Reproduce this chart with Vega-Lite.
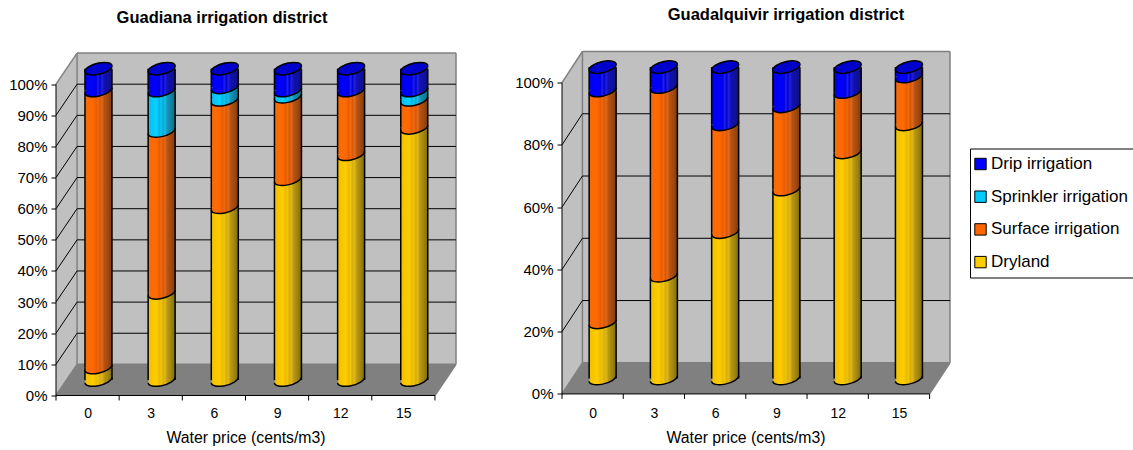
{"$schema":"https://vega.github.io/schema/vega-lite/v6.json","background":"white","padding":{"left":8,"top":6.5,"right":0,"bottom":0},"autosize":{"type":"pad"},"bounds":"flush","spacing":106,"config":{"view":{"stroke":null},"font":"Liberation Sans"},
"datasets":{
"guadiana":[
{"price":0,"series":"Dryland","start":0,"end":4},{"price":3,"series":"Dryland","start":0,"end":28},{"price":6,"series":"Dryland","start":0,"end":55.5},{"price":9,"series":"Dryland","start":0,"end":64.5},{"price":12,"series":"Dryland","start":0,"end":72.5},{"price":15,"series":"Dryland","start":0,"end":81},
{"price":0,"series":"Surface irrigation","start":4,"end":93},{"price":3,"series":"Surface irrigation","start":28,"end":80},{"price":6,"series":"Surface irrigation","start":55.5,"end":90},{"price":9,"series":"Surface irrigation","start":64.5,"end":91},{"price":12,"series":"Surface irrigation","start":72.5,"end":93},{"price":15,"series":"Surface irrigation","start":81,"end":90},
{"price":3,"series":"Sprinkler irrigation","start":80,"end":93},{"price":6,"series":"Sprinkler irrigation","start":90,"end":94},{"price":9,"series":"Sprinkler irrigation","start":91,"end":93},{"price":15,"series":"Sprinkler irrigation","start":90,"end":93},
{"price":0,"series":"Drip irrigation","start":93,"end":100},{"price":3,"series":"Drip irrigation","start":93,"end":100},{"price":6,"series":"Drip irrigation","start":94,"end":100},{"price":9,"series":"Drip irrigation","start":93,"end":100},{"price":12,"series":"Drip irrigation","start":93,"end":100},{"price":15,"series":"Drip irrigation","start":93,"end":100}],
"guadalquivir":[
{"price":0,"series":"Dryland","start":0,"end":18},{"price":3,"series":"Dryland","start":0,"end":33},{"price":6,"series":"Dryland","start":0,"end":47},{"price":9,"series":"Dryland","start":0,"end":60.7},{"price":12,"series":"Dryland","start":0,"end":72.6},{"price":15,"series":"Dryland","start":0,"end":81.6},
{"price":0,"series":"Surface irrigation","start":18,"end":92.5},{"price":3,"series":"Surface irrigation","start":33,"end":93.6},{"price":6,"series":"Surface irrigation","start":47,"end":81.6},{"price":9,"series":"Surface irrigation","start":60.7,"end":87.4},{"price":12,"series":"Surface irrigation","start":72.6,"end":92},{"price":15,"series":"Surface irrigation","start":81.6,"end":97},
{"price":0,"series":"Drip irrigation","start":92.5,"end":100},{"price":3,"series":"Drip irrigation","start":93.6,"end":100},{"price":6,"series":"Drip irrigation","start":81.6,"end":100},{"price":9,"series":"Drip irrigation","start":87.4,"end":100},{"price":12,"series":"Drip irrigation","start":92,"end":100},{"price":15,"series":"Drip irrigation","start":97,"end":100}],
"sideWall":[{"px":-1.5,"low":0,"high":100},{"px":-0.5,"low":10,"high":110}],
"backWall":[{"px":-0.5,"px2":17.5,"low":10,"high":110}],
"floor":[{"px":-1.5,"low":0,"high":0},{"px":-0.5,"low":0,"high":10},{"px":16.5,"low":0,"high":10},{"px":17.5,"low":10,"high":10}],
"frame":[{"px":-1.5,"px2":-0.5,"low":100,"high":110},{"px":-0.5,"px2":17.5,"low":110,"high":110},{"px":17.5,"px2":17.5,"low":10,"high":110},{"px":-0.5,"px2":-0.5,"low":10,"high":110},{"px":-0.5,"px2":17.5,"low":10,"high":10},{"px":-1.5,"px2":-0.5,"low":0,"high":10},{"px":16.5,"px2":17.5,"low":0,"high":10}],
"gridTen":[{"px":-1.5,"px2":-0.5,"low":10,"high":20},{"px":-1.5,"px2":-0.5,"low":20,"high":30},{"px":-1.5,"px2":-0.5,"low":30,"high":40},{"px":-1.5,"px2":-0.5,"low":40,"high":50},{"px":-1.5,"px2":-0.5,"low":50,"high":60},{"px":-1.5,"px2":-0.5,"low":60,"high":70},{"px":-1.5,"px2":-0.5,"low":70,"high":80},{"px":-1.5,"px2":-0.5,"low":80,"high":90},{"px":-1.5,"px2":-0.5,"low":90,"high":100},
{"px":-0.5,"px2":17.5,"low":20,"high":20},{"px":-0.5,"px2":17.5,"low":30,"high":30},{"px":-0.5,"px2":17.5,"low":40,"high":40},{"px":-0.5,"px2":17.5,"low":50,"high":50},{"px":-0.5,"px2":17.5,"low":60,"high":60},{"px":-0.5,"px2":17.5,"low":70,"high":70},{"px":-0.5,"px2":17.5,"low":80,"high":80},{"px":-0.5,"px2":17.5,"low":90,"high":90},{"px":-0.5,"px2":17.5,"low":100,"high":100}],
"gridTwenty":[{"px":-1.5,"px2":-0.5,"low":20,"high":30},{"px":-1.5,"px2":-0.5,"low":40,"high":50},{"px":-1.5,"px2":-0.5,"low":60,"high":70},{"px":-1.5,"px2":-0.5,"low":80,"high":90},
{"px":-0.5,"px2":17.5,"low":30,"high":30},{"px":-0.5,"px2":17.5,"low":50,"high":50},{"px":-0.5,"px2":17.5,"low":70,"high":70},{"px":-0.5,"px2":17.5,"low":90,"high":90}],
"axisLines":[{"px":-1.5,"px2":-1.5,"low":0,"high":100},{"px":-1.5,"px2":16.5,"low":0,"high":0},{"px":-1.5,"px2":-1.5,"low":-1.6,"high":0},{"px":1.5,"px2":1.5,"low":-1.6,"high":0},{"px":4.5,"px2":4.5,"low":-1.6,"high":0},{"px":7.5,"px2":7.5,"low":-1.6,"high":0},{"px":10.5,"px2":10.5,"low":-1.6,"high":0},{"px":13.5,"px2":13.5,"low":-1.6,"high":0},{"px":16.5,"px2":16.5,"low":-1.6,"high":0}]
},
"hconcat":[
{"width":400,"height":344,"title":{"text":"Guadiana irrigation district","font":"Liberation Sans","fontSize":16.5,"fontWeight":"bold","anchor":"middle","dx":-34,"offset":25,"color":"black"},
"layer":[
{"data":{"name":"backWall"},"mark":{"type":"rect","fill":"#C0C0C0"},"encoding":{"x":{"field":"px","type":"quantitative","scale":{"domain":[-1.5,17.5],"nice":false,"zero":false,"padding":0},"axis":{"title":"Water price (cents/m3)","titleFont":"Liberation Sans","titleFontSize":15.8,"titleFontWeight":"normal","titleColor":"black","titleX":189.5,"titlePadding":10.5,"values":[0,3,6,9,12,15],"ticks":false,"domain":false,"grid":false,"labelFontSize":14,"labelColor":"black","labelPadding":10.5,"labelAngle":0,"format":"d"}},"x2":{"field":"px2"},"y":{"field":"low","type":"quantitative","scale":{"domain":[0,110.5],"nice":false,"zero":false},"axis":{"title":null,"values":[0,10,20,30,40,50,60,70,80,90,100],"tickCount":11,"tickOpacity":{"condition":{"test":"datum.value>100","value":0},"value":1},"labelOverlap":false,"labelExpr":"datum.value>100?'':datum.value+'%'","domain":false,"grid":false,"tickSize":5,"tickColor":"black","labelFontSize":15,"labelColor":"black","labelPadding":4}},"y2":{"field":"high"}}},
{"data":{"name":"sideWall"},"mark":{"type":"area","fill":"#C0C0C0","orient":"vertical"},"encoding":{"x":{"field":"px","type":"quantitative"},"y":{"field":"low","type":"quantitative"},"y2":{"field":"high"}}},
{"data":{"name":"floor"},"mark":{"type":"area","fill":"#808080","orient":"vertical"},"encoding":{"x":{"field":"px","type":"quantitative"},"y":{"field":"low","type":"quantitative"},"y2":{"field":"high"}}},
{"data":{"name":"frame"},"mark":{"type":"rule","stroke":"#808080","strokeWidth":1.5},"encoding":{"x":{"field":"px","type":"quantitative"},"x2":{"field":"px2"},"y":{"field":"low","type":"quantitative"},"y2":{"field":"high"}}},
{"data":{"name":"gridTen"},"mark":{"type":"rule","stroke":"black","strokeWidth":1},"encoding":{"x":{"field":"px","type":"quantitative"},"x2":{"field":"px2"},"y":{"field":"low","type":"quantitative"},"y2":{"field":"high"}}},
{"data":{"name":"axisLines"},"mark":{"type":"rule","stroke":"black","strokeWidth":1},"encoding":{"x":{"field":"px","type":"quantitative"},"x2":{"field":"px2"},"y":{"field":"low","type":"quantitative"},"y2":{"field":"high"}}},

{"data":{"name":"guadiana"},"transform":[{"filter":"datum.series==='Dryland'"}],"mark":{"type":"bar","orient":"vertical","size":27,"xOffset":10.9,"yOffset":-15.5,"y2Offset":-15.5,"fill":{"gradient":"linear","x1":0,"y1":0,"x2":1,"y2":0,"stops":[{"offset":0,"color":"#EFC000"},{"offset":0.3,"color":"#FFCC00"},{"offset":0.42,"color":"#E8BC00"},{"offset":0.48,"color":"#F0C410"},{"offset":0.56,"color":"#D8AE00"},{"offset":0.62,"color":"#E0B820"},{"offset":0.72,"color":"#B89610"},{"offset":0.85,"color":"#A08610"},{"offset":1,"color":"#7A6A10"}]}},"encoding":{"x":{"field":"price","type":"quantitative"},"y":{"field":"start","type":"quantitative"},"y2":{"field":"end"}}},
{"data":{"name":"guadiana"},"transform":[{"filter":"datum.series==='Dryland'"}],"mark":{"type":"point","filled":true,"size":729,"strokeWidth":0,"opacity":1,"xOffset":10.9,"yOffset":-15.5,"shape":"M-1,0.2 C-1,0.432 -0.552,0.53 0,0.42 C0.552,0.31 1,0.032 1,-0.2 C1,-0.432 0.552,-0.53 0,-0.42 C-0.552,-0.31 -1,-0.032 -1,0.2 Z","fill":{"gradient":"linear","x1":0,"y1":0,"x2":1,"y2":0,"stops":[{"offset":0,"color":"#EFC000"},{"offset":0.3,"color":"#FFCC00"},{"offset":0.42,"color":"#E8BC00"},{"offset":0.48,"color":"#F0C410"},{"offset":0.56,"color":"#D8AE00"},{"offset":0.62,"color":"#E0B820"},{"offset":0.72,"color":"#B89610"},{"offset":0.85,"color":"#A08610"},{"offset":1,"color":"#7A6A10"}]}},"encoding":{"x":{"field":"price","type":"quantitative"},"y":{"field":"start","type":"quantitative"}}},
{"data":{"name":"guadiana"},"transform":[{"filter":"datum.series==='Dryland'"}],"mark":{"type":"point","filled":false,"size":729,"stroke":"black","strokeWidth":1.5,"opacity":1,"xOffset":10.9,"yOffset":-15.5,"shape":"M-1,0.2 C-1,0.432 -0.552,0.53 0,0.42 C0.552,0.31 1,0.032 1,-0.2"},"encoding":{"x":{"field":"price","type":"quantitative"},"y":{"field":"start","type":"quantitative"}}},

{"data":{"name":"guadiana"},"transform":[{"filter":"datum.series==='Surface irrigation'"}],"mark":{"type":"bar","orient":"vertical","size":27,"xOffset":10.9,"yOffset":-15.5,"y2Offset":-15.5,"fill":{"gradient":"linear","x1":0,"y1":0,"x2":1,"y2":0,"stops":[{"offset":0,"color":"#F56A0A"},{"offset":0.3,"color":"#FF6A00"},{"offset":0.42,"color":"#E85C00"},{"offset":0.48,"color":"#F06A10"},{"offset":0.56,"color":"#D85800"},{"offset":0.62,"color":"#E06A20"},{"offset":0.72,"color":"#B85010"},{"offset":0.85,"color":"#A04A10"},{"offset":1,"color":"#7A3A10"}]}},"encoding":{"x":{"field":"price","type":"quantitative"},"y":{"field":"start","type":"quantitative"},"y2":{"field":"end"}}},
{"data":{"name":"guadiana"},"transform":[{"filter":"datum.series==='Surface irrigation'"}],"mark":{"type":"point","filled":true,"size":729,"strokeWidth":0,"opacity":1,"xOffset":10.9,"yOffset":-15.5,"shape":"M-1,0.2 C-1,0.432 -0.552,0.53 0,0.42 C0.552,0.31 1,0.032 1,-0.2 C1,-0.432 0.552,-0.53 0,-0.42 C-0.552,-0.31 -1,-0.032 -1,0.2 Z","fill":{"gradient":"linear","x1":0,"y1":0,"x2":1,"y2":0,"stops":[{"offset":0,"color":"#F56A0A"},{"offset":0.3,"color":"#FF6A00"},{"offset":0.42,"color":"#E85C00"},{"offset":0.48,"color":"#F06A10"},{"offset":0.56,"color":"#D85800"},{"offset":0.62,"color":"#E06A20"},{"offset":0.72,"color":"#B85010"},{"offset":0.85,"color":"#A04A10"},{"offset":1,"color":"#7A3A10"}]}},"encoding":{"x":{"field":"price","type":"quantitative"},"y":{"field":"start","type":"quantitative"}}},
{"data":{"name":"guadiana"},"transform":[{"filter":"datum.series==='Surface irrigation'"}],"mark":{"type":"point","filled":false,"size":729,"stroke":"black","strokeWidth":1.5,"opacity":1,"xOffset":10.9,"yOffset":-15.5,"shape":"M-1,0.2 C-1,0.432 -0.552,0.53 0,0.42 C0.552,0.31 1,0.032 1,-0.2"},"encoding":{"x":{"field":"price","type":"quantitative"},"y":{"field":"start","type":"quantitative"}}},

{"data":{"name":"guadiana"},"transform":[{"filter":"datum.series==='Sprinkler irrigation'"}],"mark":{"type":"bar","orient":"vertical","size":27,"xOffset":10.9,"yOffset":-15.5,"y2Offset":-15.5,"fill":{"gradient":"linear","x1":0,"y1":0,"x2":1,"y2":0,"stops":[{"offset":0,"color":"#00BDEE"},{"offset":0.3,"color":"#10D0FF"},{"offset":0.42,"color":"#00B8E4"},{"offset":0.48,"color":"#10C4F0"},{"offset":0.56,"color":"#00ACD8"},{"offset":0.62,"color":"#20B8E0"},{"offset":0.72,"color":"#1094B8"},{"offset":0.85,"color":"#1084A0"},{"offset":1,"color":"#106A7A"}]}},"encoding":{"x":{"field":"price","type":"quantitative"},"y":{"field":"start","type":"quantitative"},"y2":{"field":"end"}}},
{"data":{"name":"guadiana"},"transform":[{"filter":"datum.series==='Sprinkler irrigation'"}],"mark":{"type":"point","filled":true,"size":729,"strokeWidth":0,"opacity":1,"xOffset":10.9,"yOffset":-15.5,"shape":"M-1,0.2 C-1,0.432 -0.552,0.53 0,0.42 C0.552,0.31 1,0.032 1,-0.2 C1,-0.432 0.552,-0.53 0,-0.42 C-0.552,-0.31 -1,-0.032 -1,0.2 Z","fill":{"gradient":"linear","x1":0,"y1":0,"x2":1,"y2":0,"stops":[{"offset":0,"color":"#00BDEE"},{"offset":0.3,"color":"#10D0FF"},{"offset":0.42,"color":"#00B8E4"},{"offset":0.48,"color":"#10C4F0"},{"offset":0.56,"color":"#00ACD8"},{"offset":0.62,"color":"#20B8E0"},{"offset":0.72,"color":"#1094B8"},{"offset":0.85,"color":"#1084A0"},{"offset":1,"color":"#106A7A"}]}},"encoding":{"x":{"field":"price","type":"quantitative"},"y":{"field":"start","type":"quantitative"}}},
{"data":{"name":"guadiana"},"transform":[{"filter":"datum.series==='Sprinkler irrigation'"}],"mark":{"type":"point","filled":false,"size":729,"stroke":"black","strokeWidth":1.5,"opacity":1,"xOffset":10.9,"yOffset":-15.5,"shape":"M-1,0.2 C-1,0.432 -0.552,0.53 0,0.42 C0.552,0.31 1,0.032 1,-0.2"},"encoding":{"x":{"field":"price","type":"quantitative"},"y":{"field":"start","type":"quantitative"}}},

{"data":{"name":"guadiana"},"transform":[{"filter":"datum.series==='Drip irrigation'"}],"mark":{"type":"bar","orient":"vertical","size":27,"xOffset":10.9,"yOffset":-15.5,"y2Offset":-15.5,"fill":{"gradient":"linear","x1":0,"y1":0,"x2":1,"y2":0,"stops":[{"offset":0,"color":"#0000E8"},{"offset":0.3,"color":"#0000FF"},{"offset":0.42,"color":"#0000E0"},{"offset":0.48,"color":"#2020F0"},{"offset":0.56,"color":"#0000D0"},{"offset":0.62,"color":"#2020E0"},{"offset":0.72,"color":"#1010B0"},{"offset":0.85,"color":"#1010A0"},{"offset":1,"color":"#10107A"}]}},"encoding":{"x":{"field":"price","type":"quantitative"},"y":{"field":"start","type":"quantitative"},"y2":{"field":"end"}}},
{"data":{"name":"guadiana"},"transform":[{"filter":"datum.series==='Drip irrigation'"}],"mark":{"type":"point","filled":true,"size":729,"strokeWidth":0,"opacity":1,"xOffset":10.9,"yOffset":-15.5,"shape":"M-1,0.2 C-1,0.432 -0.552,0.53 0,0.42 C0.552,0.31 1,0.032 1,-0.2 C1,-0.432 0.552,-0.53 0,-0.42 C-0.552,-0.31 -1,-0.032 -1,0.2 Z","fill":{"gradient":"linear","x1":0,"y1":0,"x2":1,"y2":0,"stops":[{"offset":0,"color":"#0000E8"},{"offset":0.3,"color":"#0000FF"},{"offset":0.42,"color":"#0000E0"},{"offset":0.48,"color":"#2020F0"},{"offset":0.56,"color":"#0000D0"},{"offset":0.62,"color":"#2020E0"},{"offset":0.72,"color":"#1010B0"},{"offset":0.85,"color":"#1010A0"},{"offset":1,"color":"#10107A"}]}},"encoding":{"x":{"field":"price","type":"quantitative"},"y":{"field":"start","type":"quantitative"}}},
{"data":{"name":"guadiana"},"transform":[{"filter":"datum.series==='Drip irrigation'"}],"mark":{"type":"point","filled":false,"size":729,"stroke":"black","strokeWidth":1.5,"opacity":1,"xOffset":10.9,"yOffset":-15.5,"shape":"M-1,0.2 C-1,0.432 -0.552,0.53 0,0.42 C0.552,0.31 1,0.032 1,-0.2"},"encoding":{"x":{"field":"price","type":"quantitative"},"y":{"field":"start","type":"quantitative"}}},
{"data":{"name":"guadiana"},"mark":{"type":"rule","stroke":"black","strokeWidth":1.5,"xOffset":-2.6,"yOffset":-15.5,"y2Offset":-15.5},"encoding":{"x":{"field":"price","type":"quantitative"},"y":{"field":"start","type":"quantitative"},"y2":{"field":"end"}}},
{"data":{"name":"guadiana"},"mark":{"type":"rule","stroke":"black","strokeWidth":1.5,"xOffset":24.4,"yOffset":-15.5,"y2Offset":-15.5},"encoding":{"x":{"field":"price","type":"quantitative"},"y":{"field":"start","type":"quantitative"},"y2":{"field":"end"}}},
{"data":{"name":"guadiana"},"transform":[{"filter":"datum.series==='Drip irrigation'"}],"mark":{"type":"point","filled":true,"size":729,"stroke":"black","strokeWidth":1.5,"fill":"#0000CC","opacity":1,"xOffset":10.9,"yOffset":-15.5,"shape":"M-1,0.2 C-1,0.432 -0.552,0.53 0,0.42 C0.552,0.31 1,0.032 1,-0.2 C1,-0.432 0.552,-0.53 0,-0.42 C-0.552,-0.31 -1,-0.032 -1,0.2 Z"},"encoding":{"x":{"field":"price","type":"quantitative"},"y":{"field":"end","type":"quantitative"}}}
]},
{"width":388,"height":344,"title":{"text":"Guadalquivir irrigation district","font":"Liberation Sans","fontSize":16.5,"fontWeight":"bold","anchor":"middle","dx":30,"offset":27,"color":"black"},
"layer":[
{"data":{"name":"backWall"},"mark":{"type":"rect","fill":"#C0C0C0"},"encoding":{"x":{"field":"px","type":"quantitative","scale":{"domain":[-1.5,17.5],"nice":false,"zero":false,"padding":0},"axis":{"title":"Water price (cents/m3)","titleFont":"Liberation Sans","titleFontSize":15.8,"titleFontWeight":"normal","titleColor":"black","titleX":183.5,"titlePadding":10.5,"values":[0,3,6,9,12,15],"ticks":false,"domain":false,"grid":false,"labelFontSize":14,"labelColor":"black","labelPadding":10.5,"labelAngle":0,"format":"d"}},"x2":{"field":"px2"},"y":{"field":"low","type":"quantitative","scale":{"domain":[-0.5,110],"nice":false,"zero":false},"axis":{"title":null,"values":[0,20,40,60,80,100],"tickCount":6,"tickOpacity":{"condition":{"test":"datum.value>100","value":0},"value":1},"labelOverlap":false,"labelExpr":"datum.value>100?'':datum.value+'%'","domain":false,"grid":false,"tickSize":5,"tickColor":"black","labelFontSize":15,"labelColor":"black","labelPadding":4}},"y2":{"field":"high"}}},
{"data":{"name":"sideWall"},"mark":{"type":"area","fill":"#C0C0C0","orient":"vertical"},"encoding":{"x":{"field":"px","type":"quantitative"},"y":{"field":"low","type":"quantitative"},"y2":{"field":"high"}}},
{"data":{"name":"floor"},"mark":{"type":"area","fill":"#808080","orient":"vertical"},"encoding":{"x":{"field":"px","type":"quantitative"},"y":{"field":"low","type":"quantitative"},"y2":{"field":"high"}}},
{"data":{"name":"frame"},"mark":{"type":"rule","stroke":"#808080","strokeWidth":1.5},"encoding":{"x":{"field":"px","type":"quantitative"},"x2":{"field":"px2"},"y":{"field":"low","type":"quantitative"},"y2":{"field":"high"}}},
{"data":{"name":"gridTwenty"},"mark":{"type":"rule","stroke":"black","strokeWidth":1},"encoding":{"x":{"field":"px","type":"quantitative"},"x2":{"field":"px2"},"y":{"field":"low","type":"quantitative"},"y2":{"field":"high"}}},
{"data":{"name":"axisLines"},"mark":{"type":"rule","stroke":"black","strokeWidth":1},"encoding":{"x":{"field":"px","type":"quantitative"},"x2":{"field":"px2"},"y":{"field":"low","type":"quantitative"},"y2":{"field":"high"}}},

{"data":{"name":"guadalquivir"},"transform":[{"filter":"datum.series==='Dryland'"}],"mark":{"type":"bar","orient":"vertical","size":27,"xOffset":10,"yOffset":-15.5,"y2Offset":-15.5,"fill":{"gradient":"linear","x1":0,"y1":0,"x2":1,"y2":0,"stops":[{"offset":0,"color":"#EFC000"},{"offset":0.3,"color":"#FFCC00"},{"offset":0.42,"color":"#E8BC00"},{"offset":0.48,"color":"#F0C410"},{"offset":0.56,"color":"#D8AE00"},{"offset":0.62,"color":"#E0B820"},{"offset":0.72,"color":"#B89610"},{"offset":0.85,"color":"#A08610"},{"offset":1,"color":"#7A6A10"}]}},"encoding":{"x":{"field":"price","type":"quantitative"},"y":{"field":"start","type":"quantitative"},"y2":{"field":"end"}}},
{"data":{"name":"guadalquivir"},"transform":[{"filter":"datum.series==='Dryland'"}],"mark":{"type":"point","filled":true,"size":729,"strokeWidth":0,"opacity":1,"xOffset":10,"yOffset":-15.5,"shape":"M-1,0.2 C-1,0.432 -0.552,0.53 0,0.42 C0.552,0.31 1,0.032 1,-0.2 C1,-0.432 0.552,-0.53 0,-0.42 C-0.552,-0.31 -1,-0.032 -1,0.2 Z","fill":{"gradient":"linear","x1":0,"y1":0,"x2":1,"y2":0,"stops":[{"offset":0,"color":"#EFC000"},{"offset":0.3,"color":"#FFCC00"},{"offset":0.42,"color":"#E8BC00"},{"offset":0.48,"color":"#F0C410"},{"offset":0.56,"color":"#D8AE00"},{"offset":0.62,"color":"#E0B820"},{"offset":0.72,"color":"#B89610"},{"offset":0.85,"color":"#A08610"},{"offset":1,"color":"#7A6A10"}]}},"encoding":{"x":{"field":"price","type":"quantitative"},"y":{"field":"start","type":"quantitative"}}},
{"data":{"name":"guadalquivir"},"transform":[{"filter":"datum.series==='Dryland'"}],"mark":{"type":"point","filled":false,"size":729,"stroke":"black","strokeWidth":1.5,"opacity":1,"xOffset":10,"yOffset":-15.5,"shape":"M-1,0.2 C-1,0.432 -0.552,0.53 0,0.42 C0.552,0.31 1,0.032 1,-0.2"},"encoding":{"x":{"field":"price","type":"quantitative"},"y":{"field":"start","type":"quantitative"}}},

{"data":{"name":"guadalquivir"},"transform":[{"filter":"datum.series==='Surface irrigation'"}],"mark":{"type":"bar","orient":"vertical","size":27,"xOffset":10,"yOffset":-15.5,"y2Offset":-15.5,"fill":{"gradient":"linear","x1":0,"y1":0,"x2":1,"y2":0,"stops":[{"offset":0,"color":"#F56A0A"},{"offset":0.3,"color":"#FF6A00"},{"offset":0.42,"color":"#E85C00"},{"offset":0.48,"color":"#F06A10"},{"offset":0.56,"color":"#D85800"},{"offset":0.62,"color":"#E06A20"},{"offset":0.72,"color":"#B85010"},{"offset":0.85,"color":"#A04A10"},{"offset":1,"color":"#7A3A10"}]}},"encoding":{"x":{"field":"price","type":"quantitative"},"y":{"field":"start","type":"quantitative"},"y2":{"field":"end"}}},
{"data":{"name":"guadalquivir"},"transform":[{"filter":"datum.series==='Surface irrigation'"}],"mark":{"type":"point","filled":true,"size":729,"strokeWidth":0,"opacity":1,"xOffset":10,"yOffset":-15.5,"shape":"M-1,0.2 C-1,0.432 -0.552,0.53 0,0.42 C0.552,0.31 1,0.032 1,-0.2 C1,-0.432 0.552,-0.53 0,-0.42 C-0.552,-0.31 -1,-0.032 -1,0.2 Z","fill":{"gradient":"linear","x1":0,"y1":0,"x2":1,"y2":0,"stops":[{"offset":0,"color":"#F56A0A"},{"offset":0.3,"color":"#FF6A00"},{"offset":0.42,"color":"#E85C00"},{"offset":0.48,"color":"#F06A10"},{"offset":0.56,"color":"#D85800"},{"offset":0.62,"color":"#E06A20"},{"offset":0.72,"color":"#B85010"},{"offset":0.85,"color":"#A04A10"},{"offset":1,"color":"#7A3A10"}]}},"encoding":{"x":{"field":"price","type":"quantitative"},"y":{"field":"start","type":"quantitative"}}},
{"data":{"name":"guadalquivir"},"transform":[{"filter":"datum.series==='Surface irrigation'"}],"mark":{"type":"point","filled":false,"size":729,"stroke":"black","strokeWidth":1.5,"opacity":1,"xOffset":10,"yOffset":-15.5,"shape":"M-1,0.2 C-1,0.432 -0.552,0.53 0,0.42 C0.552,0.31 1,0.032 1,-0.2"},"encoding":{"x":{"field":"price","type":"quantitative"},"y":{"field":"start","type":"quantitative"}}},

{"data":{"name":"guadalquivir"},"transform":[{"filter":"datum.series==='Drip irrigation'"}],"mark":{"type":"bar","orient":"vertical","size":27,"xOffset":10,"yOffset":-15.5,"y2Offset":-15.5,"fill":{"gradient":"linear","x1":0,"y1":0,"x2":1,"y2":0,"stops":[{"offset":0,"color":"#0000E8"},{"offset":0.3,"color":"#0000FF"},{"offset":0.42,"color":"#0000E0"},{"offset":0.48,"color":"#2020F0"},{"offset":0.56,"color":"#0000D0"},{"offset":0.62,"color":"#2020E0"},{"offset":0.72,"color":"#1010B0"},{"offset":0.85,"color":"#1010A0"},{"offset":1,"color":"#10107A"}]}},"encoding":{"x":{"field":"price","type":"quantitative"},"y":{"field":"start","type":"quantitative"},"y2":{"field":"end"}}},
{"data":{"name":"guadalquivir"},"transform":[{"filter":"datum.series==='Drip irrigation'"}],"mark":{"type":"point","filled":true,"size":729,"strokeWidth":0,"opacity":1,"xOffset":10,"yOffset":-15.5,"shape":"M-1,0.2 C-1,0.432 -0.552,0.53 0,0.42 C0.552,0.31 1,0.032 1,-0.2 C1,-0.432 0.552,-0.53 0,-0.42 C-0.552,-0.31 -1,-0.032 -1,0.2 Z","fill":{"gradient":"linear","x1":0,"y1":0,"x2":1,"y2":0,"stops":[{"offset":0,"color":"#0000E8"},{"offset":0.3,"color":"#0000FF"},{"offset":0.42,"color":"#0000E0"},{"offset":0.48,"color":"#2020F0"},{"offset":0.56,"color":"#0000D0"},{"offset":0.62,"color":"#2020E0"},{"offset":0.72,"color":"#1010B0"},{"offset":0.85,"color":"#1010A0"},{"offset":1,"color":"#10107A"}]}},"encoding":{"x":{"field":"price","type":"quantitative"},"y":{"field":"start","type":"quantitative"}}},
{"data":{"name":"guadalquivir"},"transform":[{"filter":"datum.series==='Drip irrigation'"}],"mark":{"type":"point","filled":false,"size":729,"stroke":"black","strokeWidth":1.5,"opacity":1,"xOffset":10,"yOffset":-15.5,"shape":"M-1,0.2 C-1,0.432 -0.552,0.53 0,0.42 C0.552,0.31 1,0.032 1,-0.2"},"encoding":{"x":{"field":"price","type":"quantitative"},"y":{"field":"start","type":"quantitative"}}},
{"data":{"name":"guadalquivir"},"mark":{"type":"rule","stroke":"black","strokeWidth":1.5,"xOffset":-3.5,"yOffset":-15.5,"y2Offset":-15.5},"encoding":{"x":{"field":"price","type":"quantitative"},"y":{"field":"start","type":"quantitative"},"y2":{"field":"end"}}},
{"data":{"name":"guadalquivir"},"mark":{"type":"rule","stroke":"black","strokeWidth":1.5,"xOffset":23.5,"yOffset":-15.5,"y2Offset":-15.5},"encoding":{"x":{"field":"price","type":"quantitative"},"y":{"field":"start","type":"quantitative"},"y2":{"field":"end"}}},
{"data":{"name":"guadalquivir"},"transform":[{"filter":"datum.series==='Drip irrigation'"}],"mark":{"type":"point","filled":true,"size":729,"stroke":"black","strokeWidth":1.5,"fill":"#0000CC","opacity":1,"xOffset":10,"yOffset":-15.5,"shape":"M-1,0.2 C-1,0.432 -0.552,0.53 0,0.42 C0.552,0.31 1,0.032 1,-0.2 C1,-0.432 0.552,-0.53 0,-0.42 C-0.552,-0.31 -1,-0.032 -1,0.2 Z"},"encoding":{"x":{"field":"price","type":"quantitative"},"y":{"field":"end","type":"quantitative"}}},
{"data":{"name":"guadiana"},"mark":{"type":"point","filled":true,"opacity":0},"encoding":{"x":{"field":"price","type":"quantitative"},"y":{"field":"end","type":"quantitative"},"color":{"field":"series","type":"nominal","scale":{"domain":["Drip irrigation","Sprinkler irrigation","Surface irrigation","Dryland"],"range":["#0000FF","#00CCFF","#FF6600","#FFCC00"]},"legend":{"title":null,"orient":"none","legendX":914,"legendY":97,"strokeColor":"black","fillColor":"white","padding":7,"symbolType":"square","symbolSize":130,"symbolOpacity":1,"symbolStrokeColor":"black","symbolStrokeWidth":1,"symbolOffset":-5,"labelFontSize":17,"labelColor":"black","labelFont":"Liberation Sans","rowPadding":14.7,"labelOffset":2,"labelLimit":200}}}}
]}
]}
